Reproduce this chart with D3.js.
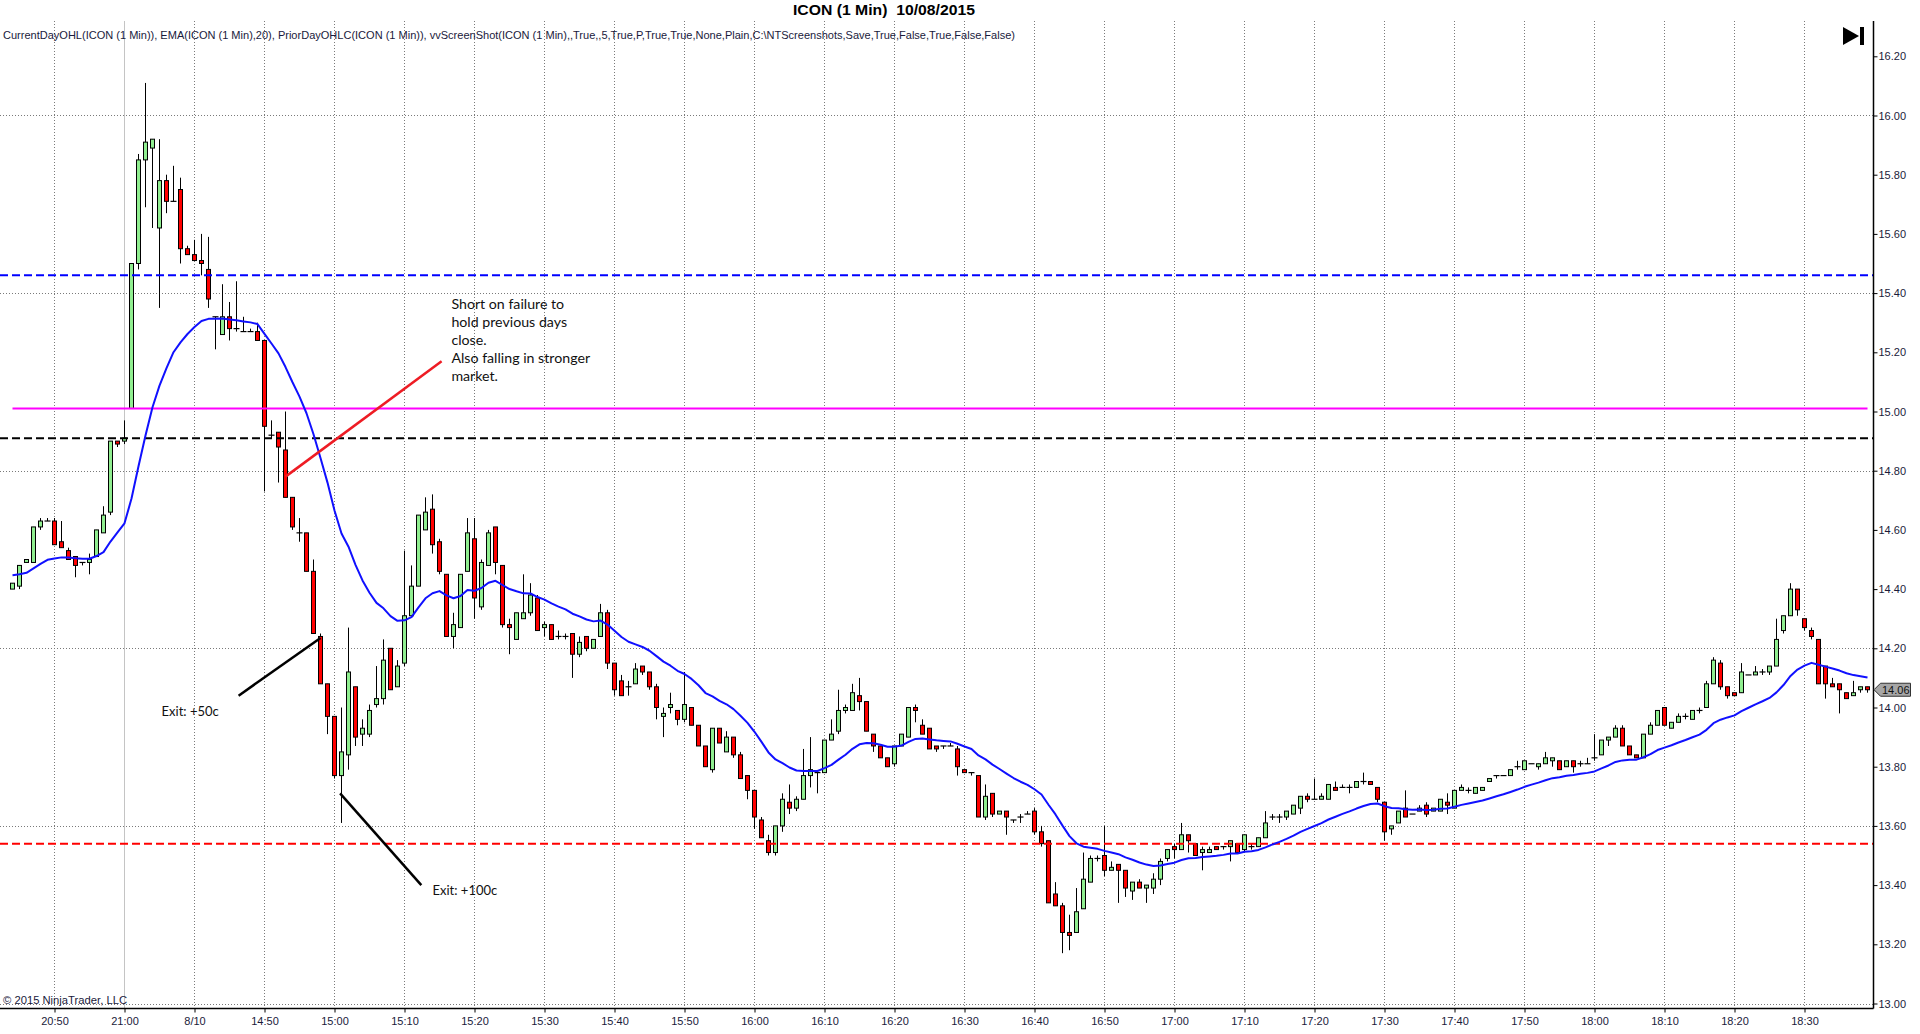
<!DOCTYPE html>
<html><head><meta charset="utf-8">
<script src="https://cdn.jsdelivr.net/npm/d3@7"></script>
<style>html,body{margin:0;padding:0;background:#fff;overflow:hidden}</style>
</head><body>
<svg id="c" width="1920" height="1034"></svg>
<script>
// ---------------- DATA ----------------
const titleText = "ICON (1 Min)  10/08/2015";
const indicatorText = "CurrentDayOHL(ICON (1 Min)), EMA(ICON (1 Min),20), PriorDayOHLC(ICON (1 Min)), vvScreenShot(ICON (1 Min),,True,,5,True,P,True,True,None,Plain,C:\\NTScreenshots,Save,True,False,True,False,False)";
const copyrightText = "\u00A9 2015 NinjaTrader, LLC";

// x-axis tick labels (one every 10 bars, first one on bar 6)
const tickLabels = ["20:50","21:00","8/10","14:50","15:00","15:10","15:20","15:30","15:40","15:50",
  "16:00","16:10","16:20","16:30","16:40","16:50","17:00","17:10","17:20","17:30",
  "17:40","17:50","18:00","18:10","18:20","18:30"];
const firstLabelBar = 6, labelEvery = 10, sessionBreakLabel = "21:00";

const opens = [14.40,14.41,14.49,14.49,14.61,14.63,
14.63,14.56,14.53,14.51,14.49,14.49,14.51,14.59,14.66,14.90,
14.90,15.01,15.50,15.85,15.89,15.62,15.78,15.71,15.75,15.55,
15.53,15.51,15.48,15.32,15.26,15.32,15.28,15.27,15.27,15.27,
15.24,14.92,14.93,14.87,14.71,14.59,14.59,14.46,14.24,14.08,
13.97,13.77,13.84,14.07,13.91,13.91,14.01,14.03,14.20,14.07,
14.15,14.31,14.41,14.60,14.67,14.56,14.45,14.24,14.27,14.46,
14.57,14.34,14.48,14.61,14.48,14.28,14.23,14.30,14.32,14.37,
14.27,14.28,14.24,14.24,14.25,14.18,14.24,14.20,14.24,14.32,
14.15,14.09,14.07,14.08,14.14,14.12,14.07,13.97,14.00,13.99,
13.96,14.00,13.94,13.87,13.79,13.93,13.85,13.90,13.84,13.77,
13.72,13.62,13.55,13.51,13.60,13.68,13.66,13.69,13.77,13.78,
13.78,13.89,13.92,13.99,13.99,14.04,14.02,13.91,13.87,13.83,
13.81,13.87,13.90,14.00,13.94,13.93,13.87,13.87,13.87,13.86,
13.79,13.78,13.77,13.63,13.71,13.64,13.65,13.62,13.63,13.64,
13.65,13.58,13.55,13.37,13.33,13.24,13.24,13.32,13.41,13.49,
13.50,13.45,13.47,13.45,13.38,13.41,13.39,13.39,13.42,13.49,
13.53,13.52,13.57,13.54,13.51,13.51,13.53,13.53,13.53,13.54,
13.52,13.53,13.53,13.56,13.63,13.63,13.63,13.64,13.66,13.70,
13.69,13.69,13.69,13.73,13.73,13.73,13.73,13.75,13.75,13.73,
13.68,13.59,13.61,13.66,13.64,13.65,13.67,13.65,13.65,13.68,
13.66,13.72,13.72,13.71,13.72,13.75,13.77,13.77,13.77,13.80,
13.79,13.81,13.80,13.81,13.82,13.82,13.80,13.82,13.81,13.81,
13.83,13.84,13.89,13.90,13.93,13.87,13.84,13.83,13.91,13.94,
14.00,13.93,13.95,13.97,13.96,13.99,14.00,14.08,14.15,14.07,
14.05,14.05,14.11,14.11,14.12,14.12,14.14,14.26,14.31,14.40,
14.30,14.26,14.23,14.14,14.08,14.08,14.05,14.04,14.06,14.07];

const highs = [14.42,14.48,14.50,14.61,14.64,14.64,
14.64,14.63,14.54,14.51,14.49,14.52,14.60,14.68,14.90,14.90,
14.97,15.50,15.87,16.11,15.92,15.92,15.80,15.83,15.79,15.56,
15.58,15.60,15.59,15.32,15.43,15.37,15.44,15.32,15.28,15.30,
15.24,14.97,14.93,15.00,14.71,14.64,14.59,14.50,14.25,14.08,
13.97,14.00,14.27,14.07,13.96,14.01,14.14,14.23,14.20,14.16,
14.53,14.48,14.65,14.71,14.72,14.57,14.45,14.32,14.45,14.64,
14.64,14.50,14.60,14.61,14.48,14.30,14.32,14.45,14.42,14.38,
14.29,14.28,14.26,14.25,14.25,14.24,14.24,14.23,14.35,14.33,
14.15,14.11,14.09,14.15,14.14,14.12,14.08,14.00,14.05,13.99,
14.12,14.00,13.94,13.87,13.93,13.93,13.92,13.90,13.85,13.77,
13.72,13.63,13.57,13.60,13.71,13.74,13.70,13.86,13.90,13.78,
13.89,13.96,14.06,14.01,14.08,14.10,14.02,13.91,13.87,13.83,
13.87,13.91,14.00,14.01,13.96,13.93,13.87,13.87,13.88,13.87,
13.79,13.78,13.77,13.74,13.71,13.65,13.65,13.62,13.64,13.65,
13.66,13.60,13.55,13.41,13.34,13.30,13.39,13.51,13.50,13.50,
13.60,13.48,13.47,13.45,13.41,13.42,13.40,13.44,13.49,13.52,
13.54,13.61,13.57,13.54,13.53,13.53,13.53,13.53,13.55,13.54,
13.57,13.54,13.56,13.65,13.64,13.64,13.65,13.67,13.70,13.71,
13.76,13.71,13.74,13.75,13.74,13.74,13.75,13.78,13.75,13.73,
13.68,13.60,13.65,13.72,13.64,13.67,13.68,13.66,13.69,13.71,
13.72,13.74,13.73,13.73,13.73,13.76,13.77,13.77,13.79,13.82,
13.82,13.81,13.81,13.85,13.83,13.82,13.82,13.82,13.82,13.83,
13.91,13.89,13.90,13.94,13.94,13.87,13.84,13.91,13.95,13.99,
14.00,13.95,13.98,13.98,13.99,14.00,14.09,14.17,14.16,14.07,
14.05,14.15,14.11,14.14,14.13,14.14,14.30,14.31,14.42,14.40,
14.30,14.27,14.23,14.14,14.10,14.08,14.05,14.09,14.07,14.07];

const lows = [14.40,14.40,14.49,14.49,14.60,14.63,
14.55,14.54,14.50,14.44,14.48,14.45,14.51,14.59,14.65,14.88,
14.89,15.01,15.48,15.69,15.62,15.35,15.67,15.71,15.50,15.53,
15.51,15.46,15.35,15.21,15.26,15.24,15.27,15.27,15.27,15.24,
14.73,14.91,14.76,14.71,14.60,14.56,14.46,14.25,14.08,13.91,
13.76,13.61,13.79,13.87,13.87,13.90,14.00,14.01,14.06,14.07,
14.14,14.31,14.41,14.60,14.52,14.45,14.24,14.20,14.27,14.46,
14.30,14.33,14.48,14.45,14.27,14.18,14.23,14.30,14.31,14.26,
14.24,14.23,14.23,14.23,14.10,14.17,14.19,14.20,14.24,14.13,
14.04,14.04,14.04,14.08,14.11,14.06,13.96,13.90,13.98,13.94,
13.95,13.94,13.87,13.80,13.78,13.88,13.85,13.83,13.76,13.69,
13.59,13.56,13.50,13.50,13.58,13.64,13.65,13.69,13.73,13.71,
13.78,13.89,13.91,13.98,13.99,13.99,13.92,13.85,13.83,13.80,
13.80,13.87,13.90,13.95,13.91,13.86,13.85,13.86,13.87,13.77,
13.78,13.77,13.63,13.62,13.63,13.64,13.57,13.61,13.61,13.64,
13.57,13.53,13.34,13.33,13.17,13.18,13.24,13.32,13.41,13.48,
13.43,13.45,13.34,13.36,13.35,13.39,13.34,13.37,13.40,13.48,
13.49,13.52,13.51,13.50,13.45,13.51,13.52,13.52,13.48,13.51,
13.51,13.52,13.53,13.56,13.62,13.61,13.62,13.64,13.64,13.68,
13.69,13.69,13.69,13.72,13.73,13.71,13.73,13.74,13.74,13.68,
13.55,13.57,13.61,13.63,13.64,13.65,13.63,13.65,13.65,13.64,
13.66,13.72,13.71,13.71,13.72,13.75,13.76,13.77,13.77,13.79,
13.79,13.81,13.79,13.81,13.80,13.79,13.80,13.78,13.80,13.81,
13.82,13.84,13.87,13.90,13.87,13.84,13.83,13.83,13.91,13.94,
13.94,13.93,13.95,13.96,13.96,13.98,14.00,14.08,14.06,14.03,
14.04,14.05,14.11,14.11,14.11,14.11,14.14,14.25,14.31,14.31,
14.26,14.23,14.08,14.03,14.07,13.98,14.03,14.04,14.05,14.05];

const closes = [14.42,14.48,14.50,14.61,14.63,14.63,
14.55,14.54,14.50,14.48,14.49,14.50,14.60,14.65,14.90,14.89,
14.91,15.50,15.85,15.91,15.92,15.78,15.71,15.71,15.55,15.53,
15.51,15.50,15.38,15.32,15.32,15.28,15.28,15.27,15.27,15.24,
14.95,14.92,14.88,14.71,14.61,14.59,14.46,14.25,14.08,13.97,
13.77,13.85,14.12,13.90,13.93,13.99,14.03,14.16,14.06,14.14,
14.31,14.41,14.65,14.66,14.55,14.46,14.24,14.28,14.45,14.59,
14.37,14.49,14.59,14.49,14.28,14.27,14.32,14.32,14.38,14.26,
14.28,14.23,14.24,14.24,14.18,14.22,14.20,14.23,14.32,14.15,
14.06,14.04,14.07,14.13,14.12,14.07,14.00,13.98,14.01,13.96,
14.01,13.94,13.87,13.80,13.93,13.88,13.90,13.84,13.76,13.72,
13.63,13.56,13.51,13.60,13.69,13.66,13.69,13.77,13.79,13.78,
13.89,13.91,13.99,14.00,14.05,14.02,13.92,13.87,13.83,13.80,
13.87,13.91,14.00,13.99,13.91,13.86,13.86,13.87,13.87,13.80,
13.78,13.78,13.63,13.70,13.64,13.65,13.63,13.62,13.63,13.64,
13.58,13.54,13.34,13.33,13.24,13.23,13.31,13.42,13.49,13.49,
13.45,13.46,13.45,13.39,13.41,13.39,13.40,13.42,13.48,13.52,
13.52,13.57,13.55,13.50,13.52,13.52,13.52,13.53,13.55,13.51,
13.57,13.53,13.56,13.61,13.63,13.63,13.65,13.67,13.70,13.69,
13.69,13.70,13.74,13.72,13.73,13.73,13.75,13.75,13.74,13.69,
13.58,13.60,13.65,13.63,13.64,13.66,13.64,13.66,13.69,13.67,
13.72,13.73,13.72,13.73,13.73,13.76,13.77,13.77,13.79,13.80,
13.82,13.81,13.81,13.83,13.83,13.79,13.82,13.80,13.81,13.81,
13.83,13.89,13.90,13.93,13.87,13.84,13.83,13.91,13.94,13.99,
13.94,13.95,13.97,13.97,13.99,13.99,14.08,14.16,14.07,14.04,
14.04,14.12,14.11,14.12,14.12,14.14,14.23,14.31,14.40,14.33,
14.27,14.24,14.08,14.08,14.07,14.06,14.03,14.05,14.07,14.06];

// EMA(20) indicator of the closes; value carried in from before the first visible bar
const emaPeriod = 20, emaPrior = 14.45;

// prior day / current day levels
const priorDayHigh = 15.46, priorDayClose = 14.91, priorDayLow = 13.54, currentDayOpen = 15.01;

// y-axis ticks and grid
const yTickMin = 13.0, yTickMax = 16.2, yTickStep = 0.2, yGridStep = 0.6;

// annotations: [barFrom, priceFrom, barTo, priceTo]
const noteRedLine = [39, 14.78, 61.3, 15.17];
const noteExit50Line = [32.3, 14.04, 44.0, 14.235];
const noteExit100Line = [46.8, 13.71, 58.4, 13.40];
const noteMainText = ["Short on failure to","hold previous days","close.","Also falling in stronger","market."];
const noteMainAt = [62.7, 15.347];
const noteExit50Text = "Exit: +50c", noteExit50At = [21.3, 13.97];
const noteExit100Text = "Exit: +100c", noteExit100At = [60.0, 13.368];

// ---------------- DRAW ----------------
const n = closes.length;
const svg = d3.select("#c");
const W = 1920, H = 1034;
const plotL = 0, plotR = 1873.5, plotT = 21, plotB = 1008.5;

const x = d3.scaleLinear().domain([0, n - 1]).range([12.5, 12.5 + 7 * (n - 1)]);
const y = d3.scaleLinear().domain([yTickMin, yTickMax]).range([1003.5, 56.3]);

svg.append("rect").attr("width", W).attr("height", H).attr("fill", "#fff");

const tickBars = tickLabels.map((d, i) => firstLabelBar + labelEvery * i);

// grid
const grid = svg.append("g");
const hGrid = d3.range(yTickMin, yTickMax + 1e-6, yGridStep);
grid.selectAll(".hg").data(hGrid).join("line")
  .attr("x1", plotL).attr("x2", plotR - 0.5)
  .attr("y1", d => Math.round(y(d)) + 0.5).attr("y2", d => Math.round(y(d)) + 0.5)
  .attr("stroke", "#7a7a7a").attr("stroke-width", 1).attr("stroke-dasharray", "1,2");
grid.selectAll(".vg").data(tickBars).join("line")
  .attr("x1", d => x(d)).attr("x2", d => x(d))
  .attr("y1", plotT).attr("y2", plotB)
  .attr("stroke", (d, i) => tickLabels[i] === sessionBreakLabel ? "#c4c4c4" : "#7a7a7a")
  .attr("stroke-width", 1)
  .attr("stroke-dasharray", (d, i) => tickLabels[i] === sessionBreakLabel ? null : "1,2");

// candles
const bars = d3.range(n).map(i => ({i, o: opens[i], h: highs[i], l: lows[i], c: closes[i]}));
const cg = svg.append("g");
cg.selectAll(".wick").data(bars).join("line")
  .attr("x1", d => x(d.i)).attr("x2", d => x(d.i))
  .attr("y1", d => y(d.h)).attr("y2", d => y(d.l))
  .attr("stroke", "#000").attr("stroke-width", 1);
const bodies = bars.filter(d => Math.abs(d.c - d.o) > 0.001);
const dojis = bars.filter(d => Math.abs(d.c - d.o) <= 0.001);
cg.selectAll(".body").data(bodies).join("rect")
  .attr("x", d => x(d.i) - 2).attr("width", 4)
  .attr("y", d => y(Math.max(d.o, d.c)))
  .attr("height", d => Math.abs(y(d.o) - y(d.c)))
  .attr("fill", d => d.c > d.o ? "#90ee90" : "#ff0000")
  .attr("stroke", "#000").attr("stroke-width", 1);
cg.selectAll(".doji").data(dojis).join("line")
  .attr("x1", d => x(d.i) - 3).attr("x2", d => x(d.i) + 3)
  .attr("y1", d => y(d.o)).attr("y2", d => y(d.o))
  .attr("stroke", "#000").attr("stroke-width", 1.2);

// level lines
const lv = svg.append("g");
const dashed = [[priorDayHigh, "#0000ff"], [priorDayClose, "#000000"], [priorDayLow, "#ff0000"]];
lv.selectAll(".lvl").data(dashed).join("line")
  .attr("x1", plotL).attr("x2", plotR - 0.5)
  .attr("y1", d => y(d[0])).attr("y2", d => y(d[0]))
  .attr("stroke", d => d[1]).attr("stroke-width", 2).attr("stroke-dasharray", "8,4");
lv.append("line")
  .attr("x1", x(0)).attr("x2", x(n - 1))
  .attr("y1", y(currentDayOpen)).attr("y2", y(currentDayOpen))
  .attr("stroke", "#ff00ff").attr("stroke-width", 2);

// EMA
const alpha = 2 / (emaPeriod + 1);
const ema = [];
closes.forEach((c, i) => { const prev = i ? ema[i - 1] : emaPrior; ema.push(prev + alpha * (c - prev)); });
svg.append("path").datum(ema)
  .attr("d", d3.line().x((d, i) => x(i)).y(d => y(d)))
  .attr("fill", "none").attr("stroke", "#1010ff").attr("stroke-width", 2).attr("stroke-linejoin", "round");

// axes
const axisColor = "#1a1a3a";
const yAxis = svg.append("g").attr("transform", `translate(${plotR},0)`)
  .call(d3.axisRight(y).tickValues(d3.range(yTickMin, yTickMax + 1e-6, yTickStep))
    .tickFormat(d3.format(".2f")).tickSize(4).tickPadding(1));
yAxis.select(".domain").remove();
yAxis.selectAll("text").attr("font-family", "Liberation Sans, Arial, sans-serif").attr("font-size", 11).attr("fill", axisColor);
yAxis.selectAll("line").attr("stroke", "#000");

const xAxis = svg.append("g").attr("transform", `translate(0,${plotB})`)
  .call(d3.axisBottom(x).tickValues(tickBars).tickFormat((d, i) => tickLabels[i]).tickSize(4).tickPadding(5));
xAxis.select(".domain").remove();
xAxis.selectAll("text").attr("font-family", "Liberation Sans, Arial, sans-serif").attr("font-size", 11).attr("fill", axisColor);
xAxis.selectAll("line").attr("stroke", "#000");

svg.append("line").attr("x1", plotR).attr("x2", plotR).attr("y1", plotT).attr("y2", plotB)
  .attr("stroke", "#000").attr("stroke-width", 1.5);
svg.append("line").attr("x1", 0).attr("x2", plotR).attr("y1", plotB).attr("y2", plotB)
  .attr("stroke", "#000").attr("stroke-width", 1.5);

// last price marker
const lastY = y(closes[n - 1]);
svg.append("path")
  .attr("d", `M${plotR + 0.5},${lastY} L${plotR + 7},${lastY - 6.5} L${plotR + 37},${lastY - 6.5} L${plotR + 37},${lastY + 6.5} L${plotR + 7},${lastY + 6.5} Z`)
  .attr("fill", "#a6a6a6").attr("stroke", "#333").attr("stroke-width", 1);
svg.append("text").attr("x", plotR + 8.5).attr("y", lastY + 4)
  .attr("font-family", "Liberation Sans, Arial, sans-serif").attr("font-size", 11).attr("fill", "#111")
  .text(d3.format(".2f")(closes[n - 1]));

// skip-to-end icon
svg.append("path").attr("d", "M1843,27 L1843,45 L1859,36 Z").attr("fill", "#000");
svg.append("rect").attr("x", 1860).attr("y", 27).attr("width", 4).attr("height", 18).attr("fill", "#000");

// titles
svg.append("text").attr("x", 884).attr("y", 15).attr("text-anchor", "middle")
  .style("white-space", "pre").attr("xml:space", "preserve")
  .attr("font-family", "Liberation Sans, Arial, sans-serif").attr("font-weight", "bold").attr("font-size", 15.5)
  .attr("textLength", 182).attr("lengthAdjust", "spacingAndGlyphs").attr("fill", "#000").text(titleText);
svg.append("text").attr("x", 3).attr("y", 38.5)
  .attr("font-family", "Liberation Sans, Arial, sans-serif").attr("font-size", 10.3)
  .attr("textLength", 1012).attr("lengthAdjust", "spacingAndGlyphs").attr("fill", "#1a1a3c").text(indicatorText);
svg.append("text").attr("x", 3).attr("y", 1004)
  .attr("font-family", "Liberation Sans, Arial, sans-serif").attr("font-size", 10)
  .attr("textLength", 124).attr("lengthAdjust", "spacingAndGlyphs").attr("fill", "#1a1a3c").text(copyrightText);

// annotations
const ann = svg.append("g");
function seg(a, color) {
  ann.append("line").attr("x1", x(a[0])).attr("y1", y(a[1])).attr("x2", x(a[2])).attr("y2", y(a[3]))
    .attr("stroke", color).attr("stroke-width", 2.5);
}
seg(noteRedLine, "#ee1c24");
seg(noteExit50Line, "#000");
seg(noteExit100Line, "#000");
const noteFont = "Lato, 'Open Sans', sans-serif";
ann.selectAll(".nt").data(noteMainText).join("text")
  .attr("x", x(noteMainAt[0])).attr("y", (d, i) => y(noteMainAt[1]) + 18 * i)
  .attr("font-family", noteFont).attr("font-size", 14.2).attr("fill", "#111").text(d => d);
ann.append("text").attr("x", x(noteExit50At[0])).attr("y", y(noteExit50At[1]))
  .attr("font-family", noteFont).attr("font-size", 13).attr("fill", "#111").text(noteExit50Text);
ann.append("text").attr("x", x(noteExit100At[0])).attr("y", y(noteExit100At[1]))
  .attr("font-family", noteFont).attr("font-size", 13).attr("fill", "#111").text(noteExit100Text);
</script>
</body></html>
